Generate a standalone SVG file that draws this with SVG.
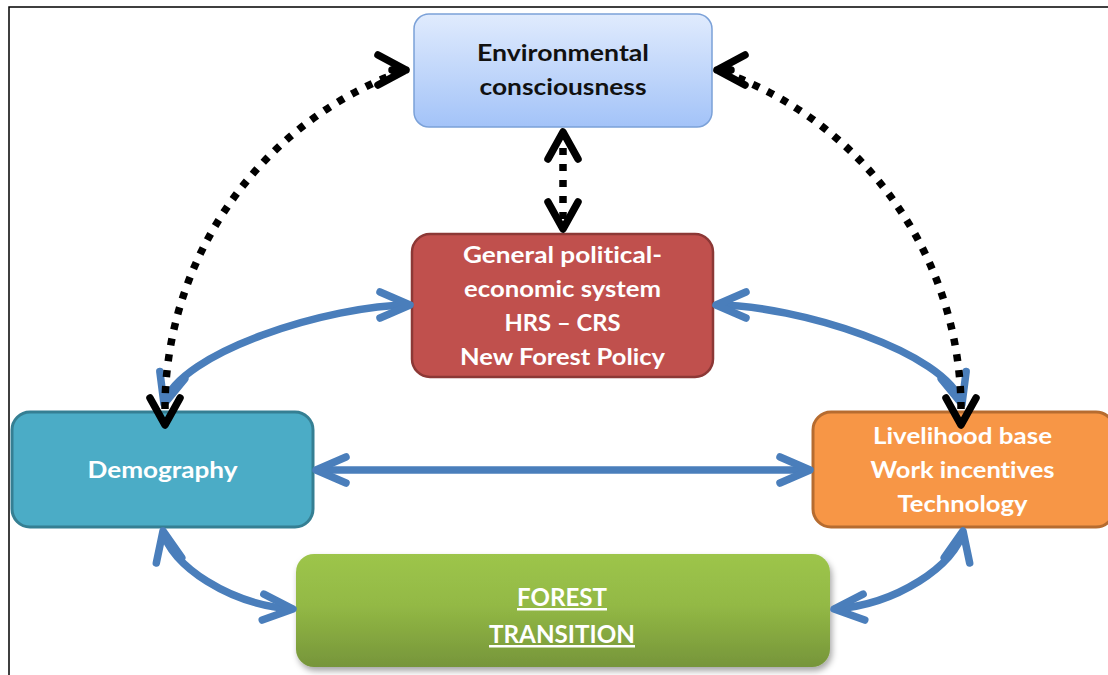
<svg xmlns="http://www.w3.org/2000/svg" width="1108" height="675" viewBox="0 0 1108 675">
  <style>
    .t { font-family: Lato, "Liberation Sans", sans-serif; font-weight: 700; font-size: 23px; text-anchor: middle; fill: #ffffff; font-variant-ligatures: none; font-feature-settings: "liga" 0, "clig" 0; }
    .dk { fill: #111111; }
    .big { font-size: 25px; text-decoration: underline; }
    .blue { fill: none; stroke: #4a7ebb; stroke-width: 7.5; marker-start: url(#bArr); marker-end: url(#bArr); }
    .dot { fill: none; stroke: #000000; stroke-width: 7.5; stroke-dasharray: 7 9; }
  </style>
  <defs>
    <linearGradient id="gEnv" x1="0" y1="0" x2="0" y2="1">
      <stop offset="0" stop-color="#e0ebfd"/>
      <stop offset="1" stop-color="#a3c3f8"/>
    </linearGradient>
    <linearGradient id="gFor" x1="0" y1="0" x2="0" y2="1">
      <stop offset="0" stop-color="#9dc54b"/>
      <stop offset="0.45" stop-color="#93b945"/>
      <stop offset="1" stop-color="#76953a"/>
    </linearGradient>
    <filter id="sh" x="-10%" y="-20%" width="120%" height="150%">
      <feDropShadow dx="2" dy="4" stdDeviation="3" flood-color="#000" flood-opacity="0.35"/>
    </filter>
    <marker id="bArr" markerUnits="userSpaceOnUse" viewBox="-40 -20 50 40" markerWidth="50" markerHeight="40" refX="0" refY="0" orient="auto-start-reverse" overflow="visible">
      <path d="M-30,-13 L0,0 L-30,13" fill="none" stroke="#4a7ebb" stroke-width="7.5" stroke-linecap="round" stroke-linejoin="round"/>
    </marker>
    <marker id="kA" markerUnits="userSpaceOnUse" viewBox="-40 -20 50 40" markerWidth="50" markerHeight="40" refX="0" refY="0" orient="auto-start-reverse" overflow="visible">
      <path d="M-27,-15 L0,0 L-27,15" fill="none" stroke="#000" stroke-width="7.5" stroke-linecap="round" stroke-linejoin="round"/>
    </marker>
    <marker id="kR" markerUnits="userSpaceOnUse" viewBox="-40 -20 50 40" markerWidth="50" markerHeight="40" refX="0" refY="0" orient="0" overflow="visible">
      <path d="M-28,-15 L0,0 L-28,15 M-14,0 L0,0" fill="none" stroke="#000" stroke-width="7.5" stroke-linecap="round" stroke-linejoin="round"/>
    </marker>
    <marker id="kL" markerUnits="userSpaceOnUse" viewBox="-40 -20 50 40" markerWidth="50" markerHeight="40" refX="0" refY="0" orient="180" overflow="visible">
      <path d="M-28,-15 L0,0 L-28,15 M-14,0 L0,0" fill="none" stroke="#000" stroke-width="7.5" stroke-linecap="round" stroke-linejoin="round"/>
    </marker>
    <marker id="kD" markerUnits="userSpaceOnUse" viewBox="-40 -20 50 40" markerWidth="50" markerHeight="40" refX="0" refY="0" orient="90" overflow="visible">
      <path d="M-27,-15 L0,0 L-27,15" fill="none" stroke="#000" stroke-width="7.5" stroke-linecap="round" stroke-linejoin="round"/>
    </marker>
  </defs>

  <rect x="9" y="7" width="1110" height="680" fill="#ffffff" stroke="#000" stroke-width="1.5"/>

  <g id="env">
    <rect x="414" y="14" width="298" height="113" rx="15" fill="url(#gEnv)" stroke="#7ba1d8" stroke-width="1.5"/>
    <text class="t dk" x="563" y="61" textLength="172" lengthAdjust="spacingAndGlyphs">Environmental</text>
    <text class="t dk" x="563" y="95" textLength="167" lengthAdjust="spacingAndGlyphs">consciousness</text>
  </g>

  <g id="political">
    <rect x="412" y="234" width="301" height="143" rx="18" fill="#c0504d" stroke="#8c3836" stroke-width="2.5"/>
    <text class="t" x="562.5" y="263" textLength="199" lengthAdjust="spacingAndGlyphs">General political-</text>
    <text class="t" x="562.5" y="297" textLength="197" lengthAdjust="spacingAndGlyphs">economic system</text>
    <text class="t" x="562.5" y="331" textLength="116" lengthAdjust="spacingAndGlyphs">HRS – CRS</text>
    <text class="t" x="562.5" y="365" textLength="205" lengthAdjust="spacingAndGlyphs">New Forest Policy</text>
  </g>

  <g id="demography">
    <rect x="12" y="412" width="301" height="115" rx="18" fill="#4bacc6" stroke="#357f93" stroke-width="3"/>
    <text class="t" x="162.5" y="478" textLength="150" lengthAdjust="spacingAndGlyphs">Demography</text>
  </g>

  <g id="livelihood">
    <rect x="813" y="412" width="301" height="115" rx="18" fill="#f79646" stroke="#b66c30" stroke-width="3"/>
    <text class="t" x="962.5" y="444" textLength="179" lengthAdjust="spacingAndGlyphs">Livelihood base</text>
    <text class="t" x="962.5" y="478" textLength="184" lengthAdjust="spacingAndGlyphs">Work incentives</text>
    <text class="t" x="962.5" y="512" textLength="130" lengthAdjust="spacingAndGlyphs">Technology</text>
  </g>

  <g id="forest">
    <rect x="296" y="554" width="534" height="113" rx="18" fill="url(#gFor)" filter="url(#sh)"/>
    <text class="t big" x="562" y="606" textLength="90" lengthAdjust="spacingAndGlyphs">FOREST</text>
    <text class="t big" x="562" y="643" textLength="146" lengthAdjust="spacingAndGlyphs">TRANSITION</text>
  </g>

  <g id="connectors">
    <path class="blue" d="M164,404 C179,352 330,305 410,305"/>
    <path class="blue" d="M716,305 C796,305 947,352 962,404"/>
    <path class="blue" d="M316,470 L810,470"/>
    <path class="blue" d="M163,531 C170,565 230,605 293,609"/>
    <path class="blue" d="M834,609 C896,605 956,565 963,531"/>
    <path class="dot" d="M165,425 L165,405 A359,359 0 0 1 406,70" marker-start="url(#kD)" marker-end="url(#kR)"/>
    <path class="dot" d="M961,425 L961,405 A359,359 0 0 0 717,70" marker-start="url(#kD)" marker-end="url(#kL)"/>
    <path class="dot" d="M563,132 L563,229" marker-start="url(#kA)" marker-end="url(#kA)"/>
  </g>
</svg>
